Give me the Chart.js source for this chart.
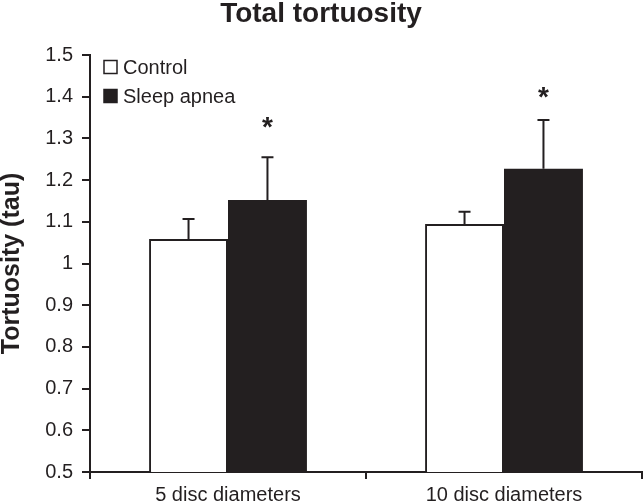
<!DOCTYPE html>
<html>
<head>
<meta charset="utf-8">
<script src="https://cdn.jsdelivr.net/npm/chart.js@4/dist/chart.umd.min.js"></script>
<style>
    html, body { margin: 0; padding: 0; background: #fff; }
    #wrap { width: 643px; height: 502px; }
</style>
</head>
<body>
<div id="wrap"><canvas id="tortChart"></canvas></div>
<script>
// dados
const categories = ['5 disc diameters', '10 disc diameters'];
const controlValues = [1.059, 1.095];
const controlErrors = [0.048, 0.029];
const apneaValues = [1.152, 1.227];
const apneaErrors = [0.103, 0.117];
const apneaStarAt = [1.344, 1.416];
const yTickLabels = ['0.5', '0.6', '0.7', '0.8', '0.9', '1', '1.1', '1.2', '1.3', '1.4', '1.5'];

const ink = '#231f20';
const FONT = "'Liberation Sans', Arial, sans-serif";

// barras de erro (só para cima) + asteriscos
const errorBars = {
    id: 'errorBars',
    afterDatasetsDraw(chart) {
        const ctx = chart.ctx;
        const y = chart.scales.y;
        ctx.save();
        ctx.strokeStyle = ink;
        ctx.lineWidth = 2;
        chart.data.datasets.forEach((ds, i) => {
            const meta = chart.getDatasetMeta(i);
            meta.data.forEach((bar, j) => {
                const top = y.getPixelForValue(ds.data[j] + ds.errors[j]);
                ctx.beginPath();
                ctx.moveTo(bar.x, bar.y);
                ctx.lineTo(bar.x, top);
                ctx.moveTo(bar.x - 6, top);
                ctx.lineTo(bar.x + 6, top);
                ctx.stroke();
                if (ds.stars && ds.stars[j] != null) {
                    ctx.fillStyle = ink;
                    ctx.font = 'bold 28px ' + FONT;
                    ctx.textAlign = 'center';
                    ctx.textBaseline = 'alphabetic';
                    ctx.fillText('*', bar.x, y.getPixelForValue(ds.stars[j]) + 16);
                }
            });
        });
        ctx.restore();
    }
};

// legenda dentro da área do gráfico
const insideLegend = {
    id: 'insideLegend',
    afterDraw(chart) {
        const ctx = chart.ctx;
        const a = chart.chartArea;
        ctx.save();
        ctx.font = '20px ' + FONT;
        ctx.textBaseline = 'middle';
        ctx.textAlign = 'left';
        chart.data.datasets.forEach((ds, i) => {
            const cy = a.top + 12 + i * 29;
            const x = a.left + 14;
            ctx.fillStyle = ds.backgroundColor;
            ctx.fillRect(x, cy - 6.5, 13, 13);
            ctx.strokeStyle = ink;
            ctx.lineWidth = 1.5;
            ctx.strokeRect(x, cy - 6.5, 13, 13);
            ctx.fillStyle = ink;
            ctx.fillText(ds.label, x + 19, cy + 1);
        });
        ctx.restore();
    }
};

const ctx = document.getElementById('tortChart').getContext('2d');
new Chart(ctx, {
    type: 'bar',
    data: {
        labels: categories,
        datasets: [
            {
                label: 'Control',
                data: controlValues,
                errors: controlErrors,
                backgroundColor: '#ffffff',
                borderColor: ink,
                borderWidth: 2
            },
            {
                label: 'Sleep apnea',
                data: apneaValues,
                errors: apneaErrors,
                stars: apneaStarAt,
                backgroundColor: ink,
                borderColor: ink,
                borderWidth: 0
            }
        ]
    },
    options: {
        responsive: true,
        maintainAspectRatio: false,
        animation: false,
        layout: { padding: { top: 0, right: 1, bottom: 0, left: 0 } },
        datasets: { bar: { barPercentage: 1, categoryPercentage: 0.572 } },
        plugins: {
            legend: { display: false },
            tooltip: { enabled: false },
            title: {
                display: true,
                text: 'Total tortuosity',
                color: ink,
                font: { size: 28, weight: 'bold', family: FONT, lineHeight: 1 },
                padding: { top: 0, bottom: 27 }
            }
        },
        scales: {
            y: {
                min: 0.5,
                max: 1.5,
                afterFit(scale) { scale.width = 90; },
                ticks: {
                    stepSize: 0.1,
                    color: ink,
                    padding: 9,
                    font: { size: 20, family: FONT },
                    callback: (v, i) => yTickLabels[i]
                },
                grid: { drawOnChartArea: false, drawTicks: true, tickLength: 8, color: ink, lineWidth: 2 },
                border: { display: true, color: ink, width: 2 },
                title: {
                    display: true,
                    text: 'Tortuosity (tau)',
                    color: ink,
                    font: { size: 25, weight: 'bold', family: FONT, lineHeight: 1 },
                    padding: { top: 0, bottom: 0 }
                }
            },
            x: {
                afterFit(scale) { scale.height = 30; },
                ticks: { color: ink, padding: 4, font: { size: 20, family: FONT } },
                grid: { offset: true, drawOnChartArea: false, drawTicks: true, tickLength: 7, color: ink, lineWidth: 2 },
                border: { display: true, color: ink, width: 2 }
            }
        }
    },
    plugins: [errorBars, insideLegend]
});
</script>
</body>
</html>
